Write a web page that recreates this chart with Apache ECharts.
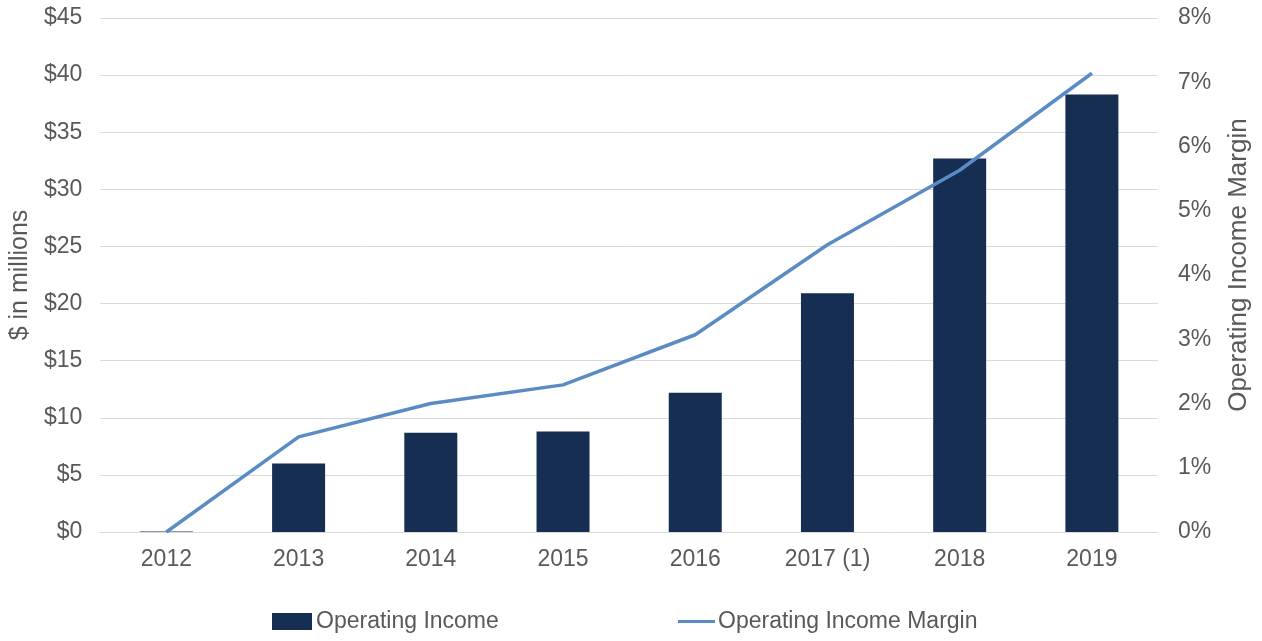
<!doctype html>
<html lang="en">
  <head>
    <meta charset="utf-8">
    <title>Operating Income</title>
    <script src="https://cdn.jsdelivr.net/npm/echarts@6/dist/echarts.min.js"></script>
    <style>
      html, body { margin: 0; padding: 0; background: #fff; }
      #chart { width: 1262px; height: 641px; }
    </style>
  </head>
  <body>
    <div id="chart"></div>
    <script>
    // data
    var years = ['2012', '2013', '2014', '2015', '2016', '2017 (1)', '2018', '2019'];
    var operatingIncome = [0.05, 6.0, 8.7, 8.8, 12.2, 20.9, 32.7, 38.3];   // $ millions
    var operatingMargin = [0, 1.48, 2.0, 2.29, 3.07, 4.47, 5.63, 7.14];    // percent

    var textColor = '#595959';
    var fontFamily = '"Liberation Sans", Arial, sans-serif';

    var chart = echarts.init(document.getElementById('chart'), null, { renderer: 'canvas' });

    var option = {
      animation: false,
      textStyle: { fontFamily: fontFamily },
      grid: { left: 100, right: 104, top: 18, bottom: 109 },
      legend: [
        {
          data: [{ name: 'Operating Income', icon: 'rect' }],
          left: 272, top: 610, padding: 0,
          itemWidth: 40, itemHeight: 17, itemGap: 0,
          itemStyle: { borderWidth: 0 },
          textStyle: { color: textColor, fontSize: 23, fontFamily: fontFamily, padding: [0, 0, 0, -1] }
        },
        {
          data: [{ name: 'Operating Income Margin', icon: 'rect' }],
          left: 678, top: 610, padding: 0,
          itemWidth: 37, itemHeight: 3, itemGap: 0,
          itemStyle: { borderWidth: 0 },
          textStyle: { color: textColor, fontSize: 23, fontFamily: fontFamily, padding: [0, 0, 0, -2] }
        }
      ],
      xAxis: {
        type: 'category',
        data: years,
        axisTick: { show: false },
        axisLine: { lineStyle: { color: '#d9d9d9', width: 1 } },
        axisLabel: { color: textColor, fontSize: 23, margin: 16 }
      },
      yAxis: [
        {
          type: 'value',
          min: 0, max: 45, interval: 5,
          name: '$ in millions',
          nameLocation: 'middle',
          nameGap: 66,
          nameTextStyle: { color: textColor, fontSize: 25 },
          axisLabel: {
            color: textColor, fontSize: 23, margin: 18,
            formatter: function (v) { return '$' + v; }
          },
          splitLine: { lineStyle: { color: '#d9d9d9', width: 1 } }
        },
        {
          type: 'value',
          min: 0, max: 8, interval: 1,
          name: 'Operating Income Margin',
          nameLocation: 'middle',
          nameGap: 68,
          nameRotate: 90,
          nameTextStyle: { color: textColor, fontSize: 26, padding: [0, 0, 0, 20] },
          axisLabel: {
            color: textColor, fontSize: 23, margin: 20,
            formatter: function (v) { return v + '%'; }
          },
          splitLine: { show: false }
        }
      ],
      series: [
        {
          name: 'Operating Income',
          type: 'bar',
          data: operatingIncome,
          barWidth: 53,
          itemStyle: { color: '#152e52' }
        },
        {
          name: 'Operating Income Margin',
          type: 'line',
          yAxisIndex: 1,
          data: operatingMargin,
          symbol: 'none',
          lineStyle: { color: '#5b8bc5', width: 3.5 },
          itemStyle: { color: '#5b8bc5' }
        }
      ]
    };

    chart.setOption(option);
    </script>
  </body>
</html>
